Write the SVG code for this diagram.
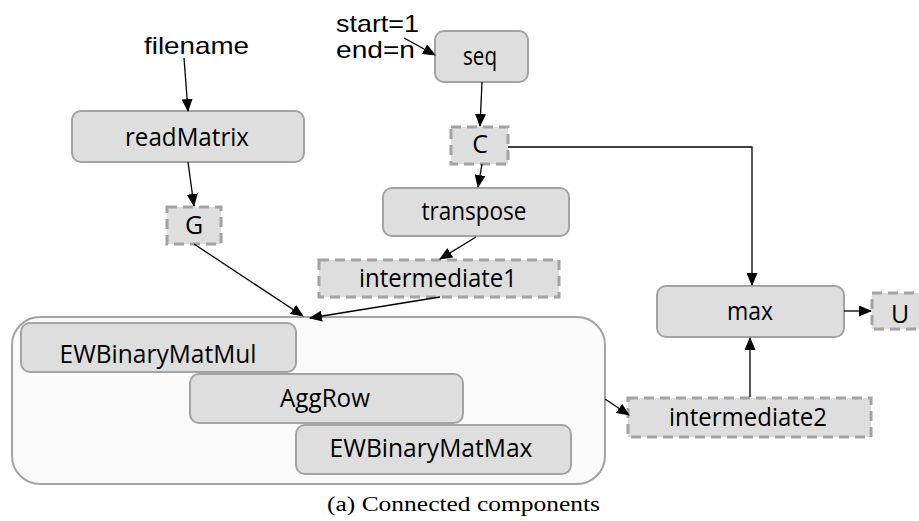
<svg xmlns="http://www.w3.org/2000/svg" width="919" height="521" viewBox="0 0 919 521">
<defs>
<marker id="ah" markerWidth="13" markerHeight="11" refX="12" refY="5.5" orient="auto" markerUnits="userSpaceOnUse">
<path d="M0,0 L13,5.5 L0,11 Z" fill="#000"/>
</marker>
<style>
.node{fill:#dedede;stroke:#a3a3a3;stroke-width:2}
.data{fill:#dedede;stroke:#a3a3a3;stroke-width:3;stroke-dasharray:10,6}
.lbl{font-family:"Open Sans","Liberation Sans",sans-serif;font-size:25px;fill:#000;text-anchor:middle}
.in{font-family:"Liberation Sans",Arial,sans-serif;font-size:24px;fill:#000}
.edge{stroke:#000;stroke-width:1.3;fill:none;marker-end:url(#ah)}
</style>
</defs>
<rect width="919" height="521" fill="#fff"/>

<g id="container">
<rect x="12" y="317" width="593" height="167" rx="28" fill="#fafafa" stroke="#a3a3a3" stroke-width="2"/>
</g>

<g id="filename"><text class="in" x="144" y="54" textLength="105" lengthAdjust="spacingAndGlyphs">filename</text></g>
<g id="startend">
<text class="in" x="336" y="32" textLength="83" lengthAdjust="spacingAndGlyphs">start=1</text>
<text class="in" x="336" y="58" textLength="79" lengthAdjust="spacingAndGlyphs">end=n</text>
</g>

<g id="readMatrix"><rect class="node" x="72" y="111" width="232" height="51" rx="9"/><text class="lbl" x="187" y="146" textLength="124" lengthAdjust="spacingAndGlyphs">readMatrix</text></g>
<g id="G"><rect class="data" x="167" y="207" width="54" height="37"/><text class="lbl" x="194" y="234">G</text></g>
<g id="seq"><rect class="node" x="435" y="31" width="93" height="51" rx="9"/><text class="lbl" x="480" y="65" textLength="34" lengthAdjust="spacingAndGlyphs">seq</text></g>
<g id="C"><rect class="data" x="451" y="127" width="57" height="37"/><text class="lbl" x="480" y="153">C</text></g>
<g id="transpose"><rect class="node" x="383" y="188" width="186" height="48" rx="9"/><text class="lbl" x="474" y="220" textLength="105" lengthAdjust="spacingAndGlyphs">transpose</text></g>
<g id="intermediate1"><rect class="data" x="319" y="260" width="240" height="37"/><text class="lbl" x="438" y="287" textLength="158" lengthAdjust="spacingAndGlyphs">intermediate1</text></g>
<g id="max"><rect class="node" x="657" y="286" width="187" height="51" rx="9"/><text class="lbl" x="750" y="320" textLength="46" lengthAdjust="spacingAndGlyphs">max</text></g>
<g id="U"><rect class="data" x="872" y="293" width="60" height="36"/><text class="lbl" x="900" y="323">U</text></g>
<g id="intermediate2"><rect class="data" x="628" y="398" width="243" height="39"/><text class="lbl" x="748" y="426" textLength="158" lengthAdjust="spacingAndGlyphs">intermediate2</text></g>
<g id="EWBinaryMatMul"><rect class="node" x="21" y="323" width="275" height="49" rx="9"/><text class="lbl" x="158" y="363" textLength="197" lengthAdjust="spacingAndGlyphs">EWBinaryMatMul</text></g>
<g id="AggRow"><rect class="node" x="190" y="374" width="273" height="49" rx="9"/><text class="lbl" x="325" y="407" textLength="90" lengthAdjust="spacingAndGlyphs">AggRow</text></g>
<g id="EWBinaryMatMax"><rect class="node" x="296" y="425" width="275" height="49" rx="9"/><text class="lbl" x="431" y="457" textLength="203" lengthAdjust="spacingAndGlyphs">EWBinaryMatMax</text></g>

<g id="connectors">
<line class="edge" x1="184" y1="58" x2="188" y2="111"/>
<line class="edge" x1="188" y1="162" x2="194" y2="206"/>
<line class="edge" x1="194" y1="244" x2="303" y2="316"/>
<line class="edge" x1="440" y1="297" x2="310" y2="318"/>
<line class="edge" x1="404" y1="38" x2="435" y2="55"/>
<line class="edge" x1="482" y1="82" x2="480" y2="126"/>
<line class="edge" x1="482" y1="164" x2="478" y2="187"/>
<line class="edge" x1="476" y1="237" x2="440" y2="259"/>
<polyline class="edge" points="508,147 752,147 752,285"/>
<line class="edge" x1="844" y1="311" x2="871" y2="311"/>
<line class="edge" x1="750" y1="397" x2="750" y2="338"/>
<line class="edge" x1="605" y1="399" x2="629" y2="415"/>
</g>

<g id="caption"><text x="327" y="511" font-family="'Liberation Serif','DejaVu Serif',serif" font-size="20" textLength="273" lengthAdjust="spacingAndGlyphs">(a) Connected components</text></g>
</svg>
